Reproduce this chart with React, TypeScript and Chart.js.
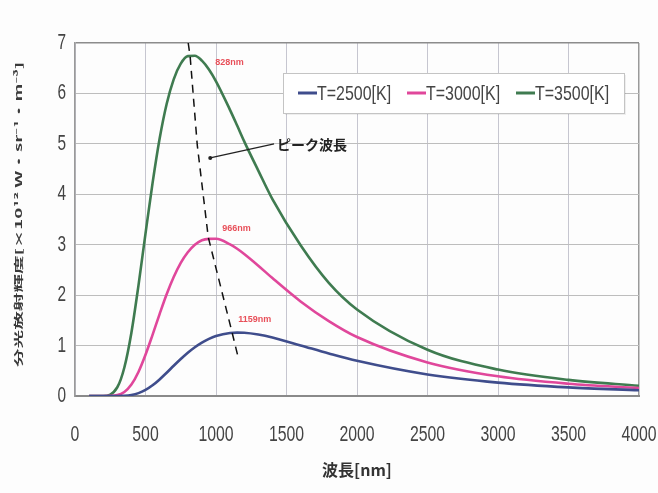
import React, { useEffect, useRef } from "react";
import { Chart, registerables } from "chart.js";

Chart.register(...registerables);

// ---- data ----
const wavelengths = [100, 200, 300, 350, 400, 450, 500, 550, 600, 650, 700, 750, 800, 850, 900, 950, 1000, 1100, 1150, 1200, 1300, 1400, 1600, 1800, 2000, 2500, 3000, 3500, 4000];
const t2500 = [0, 0, 0.001, 0.005, 0.021, 0.057, 0.12, 0.212, 0.329, 0.46, 0.599, 0.733, 0.858, 0.968, 1.06, 1.134, 1.188, 1.248, 1.256, 1.253, 1.218, 1.16, 1.003, 0.843, 0.697, 0.426, 0.265, 0.171, 0.114];
const t3000 = [0, 0, 0.018, 0.08, 0.227, 0.477, 0.818, 1.213, 1.624, 2.017, 2.358, 2.639, 2.85, 3.0, 3.09, 3.116, 3.118, 3.006, 2.92, 2.816, 2.584, 2.338, 1.875, 1.485, 1.169, 0.665, 0.39, 0.243, 0.158];
const t3500 = [0, 0.001, 0.173, 0.565, 1.256, 2.19, 3.22, 4.22, 5.1, 5.79, 6.28, 6.59, 6.74, 6.746, 6.65, 6.474, 6.24, 5.67, 5.363, 5.05, 4.47, 3.905, 2.99, 2.245, 1.717, 0.917, 0.524, 0.319, 0.204];
const seriesLabels = ["T=2500[K]", "T=3000[K]", "T=3500[K]"];
const seriesColors = ["#3f4d8c", "#e0479b", "#3f7b50"];

const peakLineX = [803, 817, 867, 945, 1115, 1157];
const peakLineY = [7.0, 6.72, 4.98, 3.15, 1.25, 0.77];

const peakLabels = ["828nm", "966nm", "1159nm"];
const peakLabelX = [995, 1044, 1158];
const peakLabelY = [6.62, 3.33, 1.51];

const annotationText = "ピーク波長";
const annotationTextX = 1433;
const annotationTextY = 4.98;
const annotationTipX = 959;
const annotationTipY = 4.72;

const xTickValues = [0, 500, 1000, 1500, 2000, 2500, 3000, 3500, 4000];
const yTickValues = [0, 1, 2, 3, 4, 5, 6, 7];
const xTitle = "波長[nm]";
const yTitle = "分光放射輝度[×10¹² W・sr⁻¹・m⁻³]";

const LATIN = "'Liberation Sans', Arial, sans-serif";
const CJK = "'Noto Sans CJK JP', 'Noto Sans', sans-serif";

const overlay = {
  id: "overlay",
  beforeDraw(chart: any) {
    const ctx = chart.ctx;
    ctx.save();
    ctx.fillStyle = "#fdfdfd";
    ctx.fillRect(0, 0, chart.width, chart.height);
    ctx.restore();
  },
  afterDraw(chart: any) {
    const ctx = chart.ctx;
    const xs = chart.scales.x;
    const ys = chart.scales.y;
    const area = chart.chartArea;

    // tick labels
    ctx.save();
    ctx.fillStyle = "#444";
    ctx.font = `22px ${LATIN}`;
    ctx.textBaseline = "middle";
    ctx.textAlign = "right";
    yTickValues.forEach((v) => {
      ctx.save();
      ctx.translate(area.left - 9, ys.getPixelForValue(v));
      ctx.scale(0.7, 1);
      ctx.fillText(String(v), 0, 0);
      ctx.restore();
    });
    ctx.textAlign = "center";
    xTickValues.forEach((v) => {
      ctx.save();
      ctx.translate(xs.getPixelForValue(v), area.bottom + 39);
      ctx.scale(0.72, 1);
      ctx.fillText(String(v), 0, 0);
      ctx.restore();
    });
    ctx.restore();

    // x title
    ctx.save();
    ctx.fillStyle = "#333";
    ctx.font = `bold 16px ${CJK}`;
    ctx.textAlign = "center";
    ctx.textBaseline = "middle";
    ctx.fillText(xTitle, (area.left + area.right) / 2, area.bottom + 74);
    ctx.restore();

    // y title (stretched along its length)
    ctx.save();
    ctx.fillStyle = "#3a3a3a";
    ctx.font = `bold 9px ${CJK}`;
    ctx.textAlign = "center";
    ctx.textBaseline = "middle";
    const w = ctx.measureText(yTitle).width;
    ctx.translate(19, (area.top + area.bottom) / 2 - 5);
    ctx.rotate(-Math.PI / 2);
    ctx.scale(305 / w, 1);
    ctx.fillText(yTitle, 0, 0);
    ctx.restore();

    // legend
    ctx.save();
    const bx = area.left + 208;
    const by = area.top + 30;
    const bw = 341;
    const bh = 40;
    ctx.fillStyle = "rgba(0,0,0,0.06)";
    ctx.fillRect(bx + 2, by + 2, bw, bh);
    ctx.fillStyle = "#ffffff";
    ctx.fillRect(bx, by, bw, bh);
    ctx.strokeStyle = "#c4c4c4";
    ctx.lineWidth = 1;
    ctx.strokeRect(bx + 0.5, by + 0.5, bw, bh);
    ctx.font = `21px ${LATIN}`;
    ctx.textBaseline = "middle";
    ctx.textAlign = "left";
    seriesLabels.forEach((lab, i) => {
      const ix = bx + 15 + i * 109;
      const iy = by + bh / 2 + 1;
      ctx.strokeStyle = seriesColors[i];
      ctx.lineWidth = 3;
      ctx.beginPath();
      ctx.moveTo(ix, iy - 1);
      ctx.lineTo(ix + 19, iy - 1);
      ctx.stroke();
      ctx.fillStyle = "#444";
      ctx.save();
      ctx.translate(ix + 19, iy);
      ctx.scale(0.76, 1);
      ctx.fillText(lab, 0, 0);
      ctx.restore();
    });
    ctx.restore();

    // peak labels
    ctx.save();
    ctx.fillStyle = "#e8505a";
    ctx.font = `bold 9px ${LATIN}`;
    ctx.textBaseline = "middle";
    ctx.textAlign = "left";
    peakLabels.forEach((lab, i) => {
      ctx.fillText(lab, xs.getPixelForValue(peakLabelX[i]), ys.getPixelForValue(peakLabelY[i]));
    });
    ctx.restore();

    // annotation
    ctx.save();
    const tx = xs.getPixelForValue(annotationTextX);
    const ty = ys.getPixelForValue(annotationTextY);
    const px = xs.getPixelForValue(annotationTipX);
    const py = ys.getPixelForValue(annotationTipY);
    ctx.strokeStyle = "#222";
    ctx.lineWidth = 1.3;
    ctx.beginPath();
    ctx.moveTo(tx - 3, ty - 1);
    ctx.lineTo(px, py);
    ctx.stroke();
    ctx.fillStyle = "#222";
    ctx.beginPath();
    ctx.arc(px, py, 2, 0, Math.PI * 2);
    ctx.fill();
    ctx.font = `bold 14px ${CJK}`;
    ctx.textBaseline = "middle";
    ctx.textAlign = "left";
    ctx.fillText(annotationText, tx, ty);
    ctx.restore();
  },
};

export default function App() {
  const ref = useRef<HTMLCanvasElement>(null);
  useEffect(() => {
    document.body.style.margin = "0";
    const canvas = ref.current!;
    const mk = (ys: number[]) => wavelengths.map((x, i) => ({ x, y: ys[i] }));
    const chart = new Chart(canvas, {
      type: "line",
      data: {
        datasets: [
          {
            label: "peak",
            data: peakLineX.map((x, i) => ({ x, y: peakLineY[i] })),
            borderColor: "#111",
            borderWidth: 1.5,
            borderDash: [8, 6],
            pointRadius: 0,
            tension: 0,
            order: 0,
          },
          ...[t2500, t3000, t3500].map((s, i) => ({
            label: seriesLabels[i],
            data: mk(s),
            borderColor: seriesColors[i],
            borderWidth: 2.6,
            pointRadius: 0,
            cubicInterpolationMode: "monotone" as const,
            order: 1,
          })),
        ],
      },
      plugins: [overlay],
      options: {
        responsive: false,
        animation: false,
        devicePixelRatio: 1,
        layout: { padding: { left: 75, top: 43, right: 19, bottom: 97 } },
        plugins: { legend: { display: false }, tooltip: { enabled: false } },
        scales: {
          x: {
            type: "linear",
            min: 0,
            max: 4000,
            afterFit: (s: any) => { s.height = 0; },
            ticks: { display: false, stepSize: 500 },
            grid: {
              drawTicks: false,
              color: (c: any) => (c.tick && c.tick.value === 4000 ? "#9a9a9a" : "#c6c6d0"),
              lineWidth: (c: any) => (c.tick && c.tick.value === 4000 ? 1.5 : 1),
            },
            border: { color: "#8a8a8a", width: 2 },
          },
          y: {
            type: "linear",
            min: 0,
            max: 7,
            afterFit: (s: any) => { s.width = 0; },
            ticks: { display: false, stepSize: 1 },
            grid: {
              drawTicks: false,
              color: (c: any) => (c.tick && c.tick.value === 7 ? "#8c8c8c" : "#bdbdbd"),
              lineWidth: (c: any) => (c.tick && c.tick.value === 7 ? 1.5 : 1),
            },
            border: { color: "#9a9a9a", width: 1.5 },
          },
        },
      },
    } as any);
    return () => chart.destroy();
  }, []);
  return <canvas ref={ref} width={658} height={493} style={{ display: "block" }} />;
}
